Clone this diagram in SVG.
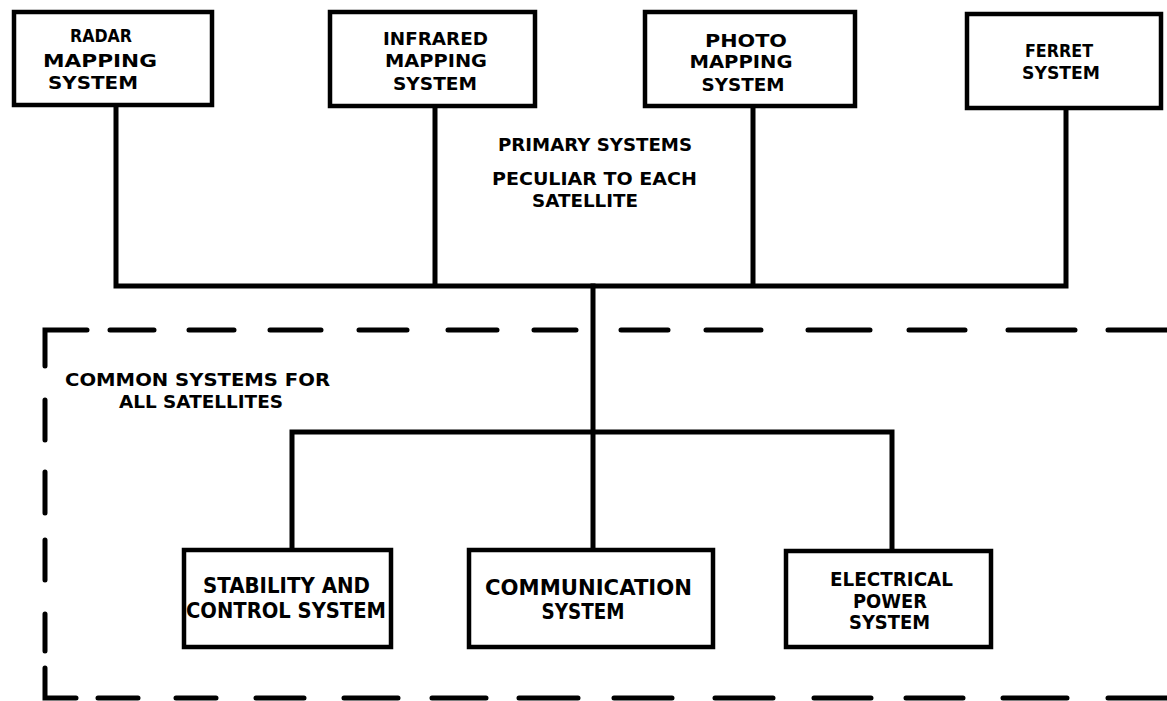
<svg xmlns="http://www.w3.org/2000/svg" width="1167" height="701" viewBox="0 0 1167 701">
<style>
.box{fill:#fff;stroke:#000;stroke-width:4.5}
.ln{fill:none;stroke:#000;stroke-width:5;stroke-linecap:square}
.dash{fill:none;stroke:#000;stroke-width:5;stroke-linecap:round;stroke-linejoin:miter}
text{font-family:"DejaVu Sans","Liberation Sans",sans-serif;font-weight:bold;fill:#000;text-anchor:middle}
.t17{font-size:17px}
.t18{font-size:18px}
.t21{font-size:21px}
.t19{font-size:19px}
</style>
<rect width="1167" height="701" fill="#fff"/>
<g id="connectors">
<path class="ln" d="M116,106 V286 M435,106 V286 M753,106 V286 M1066,108 V286 M116,286 H1066"/>
<path class="ln" d="M593,286 V549"/>
<path class="ln" d="M292,432 H892 M292,432 V549 M892,432 V549"/>
</g>
<g id="common-boundary">
<path class="dash" d="M45,366 V330 H87 M110,330 H154 M189,330 H234 M270,330 H321 M359,330 H407 M448,330 H497 M534,330 H576 M621,330 H668 M706,330 H761 M808,330 H870 M909,330 H965 M1008,330 H1075 M1108,330 H1170"/>
<path class="dash" d="M45,400 V440 M45,472 V513 M45,540 V580 M45,614 V651 M45,668 V698 H76"/>
<path class="dash" d="M98,698 H138 M176,698 H216 M256,698 H304 M344,698 H398 M432,698 H486 M519,698 H578 M614,698 H672 M715,698 H773 M814,698 H871 M906,698 H963 M1003,698 H1067 M1108,698 H1170"/>
<text class="t17" style="text-anchor:start" x="65" y="386" textLength="265" lengthAdjust="spacingAndGlyphs">COMMON SYSTEMS FOR</text>
<text class="t17" style="text-anchor:start" x="119" y="408" textLength="164" lengthAdjust="spacingAndGlyphs">ALL SATELLITES</text>
</g>
<g id="primary-label">
<text class="t18" x="595" y="151" textLength="194" lengthAdjust="spacingAndGlyphs">PRIMARY SYSTEMS</text>
<text class="t18" x="594.5" y="185" textLength="205" lengthAdjust="spacingAndGlyphs">PECULIAR TO EACH</text>
<text class="t18" x="585" y="207" textLength="106" lengthAdjust="spacingAndGlyphs">SATELLITE</text>
</g>
<g id="radar">
<rect class="box" x="14" y="12" width="198" height="93"/>
<text class="t18" x="101" y="42" textLength="62" lengthAdjust="spacingAndGlyphs">RADAR</text>
<text class="t18" x="100" y="67" textLength="114" lengthAdjust="spacingAndGlyphs">MAPPING</text>
<text class="t18" x="93" y="89" textLength="90" lengthAdjust="spacingAndGlyphs">SYSTEM</text>
</g>
<g id="infrared">
<rect class="box" x="330" y="12" width="205" height="94"/>
<text class="t18" x="435.5" y="45" textLength="105" lengthAdjust="spacingAndGlyphs">INFRARED</text>
<text class="t18" x="436" y="67" textLength="102" lengthAdjust="spacingAndGlyphs">MAPPING</text>
<text class="t18" x="435" y="90" textLength="84" lengthAdjust="spacingAndGlyphs">SYSTEM</text>
</g>
<g id="photo">
<rect class="box" x="645" y="12" width="210" height="94"/>
<text class="t18" x="746" y="47" textLength="82" lengthAdjust="spacingAndGlyphs">PHOTO</text>
<text class="t18" x="741" y="68" textLength="103" lengthAdjust="spacingAndGlyphs">MAPPING</text>
<text class="t18" x="743" y="91" textLength="83" lengthAdjust="spacingAndGlyphs">SYSTEM</text>
</g>
<g id="ferret">
<rect class="box" x="967" y="14" width="194" height="94"/>
<text class="t18" x="1059" y="57" textLength="68" lengthAdjust="spacingAndGlyphs">FERRET</text>
<text class="t18" x="1061" y="79" textLength="78" lengthAdjust="spacingAndGlyphs">SYSTEM</text>
</g>
<g id="stability">
<rect class="box" x="184" y="550" width="207" height="97"/>
<text class="t21" x="286.5" y="593" textLength="167" lengthAdjust="spacingAndGlyphs">STABILITY AND</text>
<text class="t21" x="286" y="618" textLength="200" lengthAdjust="spacingAndGlyphs">CONTROL SYSTEM</text>
</g>
<g id="communication">
<rect class="box" x="469" y="550" width="244" height="97"/>
<text class="t21" x="588.5" y="595" textLength="207" lengthAdjust="spacingAndGlyphs">COMMUNICATION</text>
<text class="t21" x="583" y="619" textLength="83" lengthAdjust="spacingAndGlyphs">SYSTEM</text>
</g>
<g id="electrical">
<rect class="box" x="786" y="551" width="205" height="96"/>
<text class="t19" x="891.5" y="586" textLength="123" lengthAdjust="spacingAndGlyphs">ELECTRICAL</text>
<text class="t19" x="890" y="608" textLength="74" lengthAdjust="spacingAndGlyphs">POWER</text>
<text class="t19" x="889.5" y="629" textLength="81" lengthAdjust="spacingAndGlyphs">SYSTEM</text>
</g>
</svg>
